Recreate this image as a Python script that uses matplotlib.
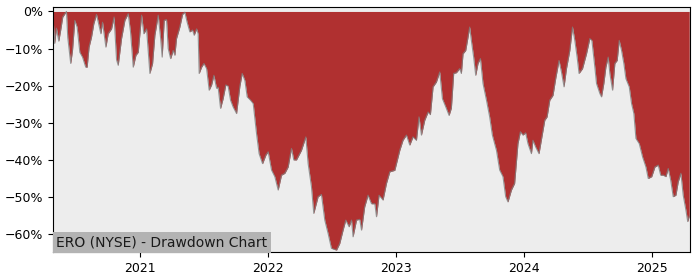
import matplotlib
matplotlib.use("Agg")
import matplotlib.pyplot as plt
import matplotlib.dates as mdates
from matplotlib.ticker import FuncFormatter
from datetime import datetime, timedelta

title = "ERO (NYSE) - Drawdown Chart"

# decimal-year positions
years = [2020.325, 2020.336, 2020.350, 2020.368, 2020.383, 2020.399, 2020.428, 2020.438, 2020.461, 2020.475,
         2020.493, 2020.511, 2020.532, 2020.553, 2020.578, 2020.589, 2020.604, 2020.623, 2020.641, 2020.662,
         2020.682, 2020.696, 2020.709, 2020.735, 2020.753, 2020.779, 2020.799, 2020.818, 2020.831, 2020.857,
         2020.883, 2020.909, 2020.927, 2020.948, 2020.969, 2020.987, 2021.013, 2021.031, 2021.052, 2021.078,
         2021.099, 2021.117, 2021.143, 2021.162, 2021.174, 2021.190, 2021.208, 2021.221, 2021.240, 2021.260,
         2021.273, 2021.286, 2021.312, 2021.333, 2021.351, 2021.369, 2021.390, 2021.411, 2021.424, 2021.443,
         2021.455, 2021.463, 2021.482, 2021.500, 2021.521, 2021.541, 2021.560, 2021.578, 2021.599, 2021.611,
         2021.630, 2021.650, 2021.671, 2021.689, 2021.708, 2021.728, 2021.755, 2021.781, 2021.799, 2021.820,
         2021.838, 2021.864, 2021.885, 2021.911, 2021.931, 2021.958, 2021.984, 2022.002, 2022.028, 2022.054,
         2022.080, 2022.106, 2022.132, 2022.158, 2022.184, 2022.202, 2022.223, 2022.262, 2022.296, 2022.314,
         2022.340, 2022.358, 2022.392, 2022.418, 2022.444, 2022.470, 2022.496, 2022.536, 2022.561, 2022.587,
         2022.608, 2022.634, 2022.653, 2022.665, 2022.692, 2022.717, 2022.731, 2022.756, 2022.782, 2022.809,
         2022.835, 2022.848, 2022.868, 2022.899, 2022.926, 2022.952, 2022.991, 2023.030, 2023.055, 2023.082,
         2023.108, 2023.133, 2023.160, 2023.180, 2023.199, 2023.225, 2023.251, 2023.269, 2023.290, 2023.316,
         2023.342, 2023.363, 2023.389, 2023.415, 2023.433, 2023.451, 2023.472, 2023.498, 2023.511, 2023.524,
         2023.545, 2023.563, 2023.576, 2023.589, 2023.607, 2023.623, 2023.641, 2023.660, 2023.680, 2023.707,
         2023.732, 2023.753, 2023.785, 2023.810, 2023.836, 2023.857, 2023.875, 2023.902, 2023.927, 2023.953,
         2023.972, 2023.992, 2024.013, 2024.031, 2024.058, 2024.070, 2024.091, 2024.117, 2024.144, 2024.162,
         2024.180, 2024.201, 2024.226, 2024.247, 2024.273, 2024.292, 2024.312, 2024.331, 2024.357, 2024.378,
         2024.396, 2024.414, 2024.429, 2024.456, 2024.487, 2024.513, 2024.529, 2024.552, 2024.565, 2024.591,
         2024.604, 2024.622, 2024.638, 2024.656, 2024.669, 2024.690, 2024.708, 2024.726, 2024.742, 2024.760,
         2024.778, 2024.794, 2024.820, 2024.838, 2024.856, 2024.872, 2024.898, 2024.924, 2024.950, 2024.968,
         2024.995, 2025.020, 2025.046, 2025.065, 2025.085, 2025.106, 2025.124, 2025.143, 2025.163, 2025.184,
         2025.202, 2025.223, 2025.241, 2025.262, 2025.276, 2025.288]

drawdown = [-2.5, -8.6, -4.5, -8.0, -5.0, -1.5, 0.0, -7.0, -14.0, -10.5,
            -2.4, -4.2, -11.0, -12.3, -15.0, -15.0, -9.6, -6.9, -3.3, -0.8,
            -3.8, -6.0, -2.9, -9.6, -6.0, -4.7, -1.5, -13.0, -14.5, -7.3,
            -2.4, -0.6, -5.5, -15.0, -11.8, -11.0, -1.0, -6.0, -4.7, -16.7,
            -14.0, -6.4, -1.0, -7.3, -12.3, -2.4, -2.2, -10.0, -12.7, -10.5,
            -11.8, -7.3, -4.2, -0.8, -0.2, -2.9, -5.5, -5.0, -6.4, -4.7,
            -6.0, -16.7, -15.0, -14.0, -15.4, -21.2, -19.8, -17.2, -20.7, -20.4,
            -26.1, -23.5, -19.8, -20.1, -23.9, -25.7, -27.5, -20.1, -16.7, -18.6,
            -23.0, -23.9, -24.8, -32.9, -38.3, -41.0, -38.7, -37.8, -42.7, -44.5,
            -48.1, -44.1, -43.6, -41.9, -36.9, -40.0, -40.0, -37.4, -33.8, -41.0,
            -47.2, -54.4, -49.9, -49.3, -56.2, -59.8, -63.8, -64.3, -62.5, -58.9,
            -56.2, -58.0, -56.2, -60.7, -56.2, -56.0, -58.9, -52.6, -49.5, -51.8,
            -51.8, -55.3, -49.5, -50.8, -46.3, -43.2, -42.8, -37.4, -34.7, -33.3,
            -36.0, -33.8, -34.7, -28.4, -33.3, -29.3, -27.1, -27.8, -20.3, -19.0,
            -16.3, -23.5, -25.7, -28.0, -26.0, -16.7, -16.5, -15.4, -16.7, -11.4,
            -10.5, -6.9, -4.2, -7.8, -12.3, -17.2, -14.0, -12.7, -19.4, -23.9,
            -28.4, -33.3, -37.4, -42.7, -44.5, -49.9, -51.3, -48.1, -46.3, -35.6,
            -32.4, -33.3, -32.7, -35.6, -38.3, -34.7, -36.5, -38.3, -32.9, -29.3,
            -28.4, -23.9, -22.6, -18.1, -13.2, -16.3, -20.3, -15.4, -10.5, -4.2,
            -7.8, -12.3, -16.7, -15.4, -11.4, -7.3, -7.8, -15.0, -19.4, -22.1,
            -23.0, -19.4, -15.0, -12.3, -16.7, -21.2, -14.0, -13.2, -7.8, -10.5,
            -14.0, -18.1, -20.3, -24.8, -27.5, -34.2, -35.6, -39.2, -41.9, -45.0,
            -44.5, -41.9, -41.4, -44.1, -44.1, -44.5, -42.3, -45.4, -49.9, -49.5,
            -45.9, -43.6, -49.5, -53.5, -56.6, -55.2]


def to_date(t):
    y = int(t)
    start = datetime(y, 1, 1)
    days = (datetime(y + 1, 1, 1) - start).days
    return start + timedelta(days=(t - y) * days)


dates = [to_date(t) for t in years]
x_start = to_date(2020.323)
x_end = to_date(2025.294)

fig = plt.figure(figsize=(7, 2.8), dpi=100)
ax = fig.add_axes([0.0757, 0.1, 0.91, 0.875])
ax.set_facecolor("#ededed")

ax.fill_between(dates, drawdown, 0, color="#b03030", linewidth=0)
ax.plot(dates, drawdown, color="#808080", linewidth=0.8, alpha=0.8)

ax.set_xlim(x_start, x_end)
ax.set_ylim(-64.8, 1.2)
ax.set_yticks([0, -10, -20, -30, -40, -50, -60])
ax.yaxis.set_major_formatter(FuncFormatter(lambda v, p: f"{int(round(v))}%".replace("-", "\u2212")))
ax.xaxis.set_major_locator(mdates.YearLocator())
ax.xaxis.set_major_formatter(mdates.DateFormatter("%Y"))
ax.tick_params(labelsize=9)

ax.text(0.005, 0.012, title, transform=ax.transAxes, ha="left", va="bottom", fontsize=10,
        color="#1a1a1a",
        bbox=dict(facecolor="#b3b3b3", edgecolor="none", pad=2.5))

fig.savefig("out.png", dpi=100)
